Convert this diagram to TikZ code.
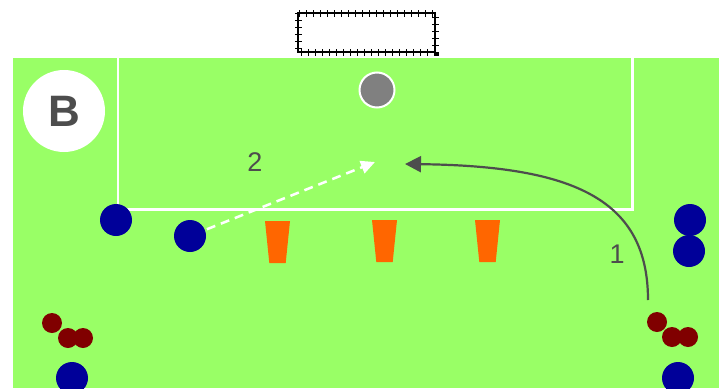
\documentclass[tikz,border=0pt]{standalone}
\usepackage{fontspec}
\setmainfont{Liberation Sans}
\usetikzlibrary{arrows.meta}
\definecolor{pitch}{RGB}{153,255,102}
\definecolor{navy}{RGB}{0,0,153}
\definecolor{maroon}{RGB}{128,0,0}
\definecolor{conecol}{RGB}{255,102,0}
\definecolor{ink}{RGB}{77,77,77}
\tikzset{
    blue player/.style={circle, fill=navy, minimum size=32pt, inner sep=0pt},
    red player/.style={circle, fill=maroon, minimum size=20pt, inner sep=0pt},
    cone/.pic={\fill[conecol] (-12.5,-21) -- (12.5,-21) -- (8.2,21) -- (-8.2,21) -- cycle;},
    num/.style={text=ink, font=\fontsize{27}{27}\selectfont},
}

\begin{document}
\begin{tikzpicture}[x=1pt, y=-1pt]
    \useasboundingbox (0,0) rectangle (719,388);
    \fill[pitch] (13,58) rectangle (719,388);
    \draw[white, line width=2.5pt] (118,58) -- (118,209.5) -- (632.5,209.5) -- (632.5,58);
    \draw[black, line width=7pt, dash pattern=on 1.4pt off 5.6pt] (298,13) rectangle (435,52);
    \draw[black, line width=1.5pt] (298,13) rectangle (435,52);
    \node [circle, fill=white, minimum size=82pt, inner sep=0pt] (badge) at (64,111) {};
    \node [text=ink, font=\fontsize{44}{44}\bfseries\selectfont] (letter) at (badge) {B};
    \node [circle, fill=gray, draw=white, line width=2pt, minimum size=35pt, inner sep=0pt] (ball) at (377,90) {};
    \node [blue player] (b1) at (116,220) {};
    \node [blue player] (b2) at (190,236) {};
    \node [blue player] (b3) at (690,220) {};
    \node [blue player] (b4) at (689,251) {};
    \node [blue player] (b5) at (72,378) {};
    \node [blue player] (b6) at (678,378) {};
    \node [red player] (r1) at (52,323) {};
    \node [red player] (r2) at (68,338) {};
    \node [red player] (r3) at (83,338) {};
    \node [red player] (r4) at (657,322) {};
    \node [red player] (r5) at (672,337) {};
    \node [red player] (r6) at (688,337) {};
    \pic (c1) at (277.5,242) {cone};
    \pic (c2) at (384.5,241) {cone};
    \pic (c3) at (487.5,241) {cone};
    \coordinate (runstart) at (648,300);
    \coordinate (runend) at (405,164);
    \coordinate (passend) at (375,162);
    \draw[ink, line width=2.2pt, -{Triangle[length=16pt,width=16pt]}] (runstart) .. controls (648,200) and (575,166) .. (runend);
    \draw[white, line width=2.5pt, dash pattern=on 9pt off 6pt, -{Triangle[length=14pt,width=13pt]}, shorten <=2pt] (b2) -- (passend);
    \node [num] (lab1) at (617,254) {1};
    \node [num] (lab2) at (255,162) {2};
\end{tikzpicture}
\end{document}
